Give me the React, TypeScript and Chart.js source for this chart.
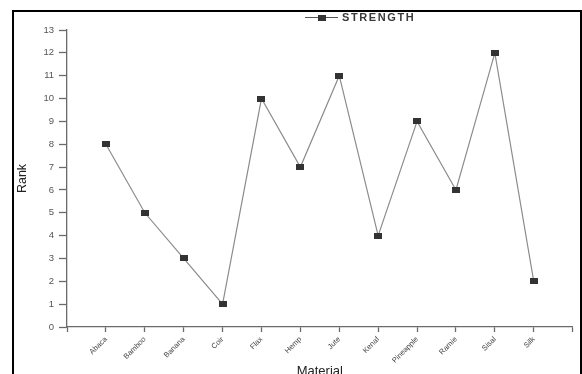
import React, { useEffect, useRef } from 'react';
import { Chart, registerables } from 'chart.js';
Chart.register(...registerables);

const materials = ['Abaca', 'Bamboo', 'Banana', 'Coir', 'Flax', 'Hemp', 'Jute', 'Kenaf', 'Pineapple', 'Ramie', 'Sisal', 'Silk'];
const strengthRank = [8, 5, 3, 1, 10, 7, 11, 4, 9, 6, 12, 2];
const seriesName = 'STRENGTH';
const xTitle = 'Material';
const yTitle = 'Rank';
const yMin = 0;
const yMax = 13;

const FONT = '"Liberation Sans", Arial, sans-serif';

export default function App() {
  const ref = useRef<HTMLCanvasElement>(null);

  useEffect(() => {
    if (!ref.current) return;
    const marker = document.createElement('canvas');
    marker.width = 8;
    marker.height = 6;
    const mctx = marker.getContext('2d')!;
    mctx.fillStyle = '#333';
    mctx.fillRect(0, 0, 8, 6);

    const legendPlugin = {
      id: 'customLegend',
      afterDraw(chart: any) {
        const ctx = chart.ctx as CanvasRenderingContext2D;
        const x0 = chart.chartArea.left + 238;
        const y0 = 17.5;
        ctx.save();
        ctx.strokeStyle = '#555';
        ctx.lineWidth = 1.2;
        ctx.beginPath();
        ctx.moveTo(x0, y0);
        ctx.lineTo(x0 + 33, y0);
        ctx.stroke();
        ctx.drawImage(marker, x0 + 13, y0 - 3);
        ctx.fillStyle = '#3a3a3a';
        ctx.font = 'bold 11px ' + FONT;
        (ctx as any).letterSpacing = '1.6px';
        ctx.textBaseline = 'middle';
        ctx.textAlign = 'left';
        ctx.fillText(seriesName, x0 + 37, y0);
        ctx.restore();
      },
    };

    const chart = new Chart(ref.current, {
      type: 'line',
      data: {
        datasets: [
          {
            label: seriesName,
            data: strengthRank.map((v, i) => ({ x: i, y: v })),
            borderColor: '#8c8c8c',
            borderWidth: 1.2,
            pointStyle: marker as any,
            pointRadius: 4,
            pointBackgroundColor: '#333',
            pointBorderColor: '#333',
            tension: 0,
          },
        ],
      },
      options: {
        responsive: false,
        animation: false,
        layout: { padding: { top: 30, right: 6, left: 0, bottom: 0 } },
        plugins: { legend: { display: false }, tooltip: { enabled: false } },
        scales: {
          x: {
            type: 'linear',
            min: -1,
            max: materials.length,
            ticks: {
              stepSize: 1,
              autoSkip: false,
              maxRotation: 45,
              minRotation: 45,
              callback: (v: any) => materials[v] ?? '',
              color: '#444',
              font: { size: 7.5, family: FONT },
              padding: 3,
            },
            grid: { drawOnChartArea: false, tickLength: 5, color: '#6a6a6a', tickWidth: 1.3 },
            border: { color: '#6a6a6a', width: 1.3 },
            title: {
              display: true,
              text: xTitle,
              color: '#222',
              font: { size: 13, family: FONT },
              padding: { top: 0, bottom: 11 },
            },
            afterFit: (s: any) => {
              s.height = 390 - 327;
            },
          },
          y: {
            min: yMin,
            max: yMax,
            ticks: {
              stepSize: 1,
              color: '#555',
              font: { size: 9.5, family: FONT },
              padding: 5,
            },
            grid: { drawOnChartArea: false, tickLength: 8, color: '#6a6a6a', tickWidth: 1.3 },
            border: { color: '#6a6a6a', width: 1.3 },
            title: {
              display: true,
              text: yTitle,
              color: '#222',
              font: { size: 12.5, family: FONT },
              padding: { top: 15, bottom: 0 },
            },
            afterFit: (s: any) => {
              s.width = 67;
            },
          },
        },
      } as any,
      plugins: [legendPlugin],
    });
    return () => chart.destroy();
  }, []);

  return (
    <div style={{ position: 'fixed', left: 0, top: 0, width: 582, height: 374, overflow: 'hidden', background: '#fff' }}>
      <div
        style={{
          position: 'absolute',
          left: 12,
          top: 10,
          width: 570,
          height: 400,
          border: '2px solid #000',
          boxSizing: 'border-box',
        }}
      />
      <canvas
        ref={ref}
        width={582}
        height={390}
        style={{ position: 'absolute', left: 0, top: 0, width: 582, height: 390 }}
      />
    </div>
  );
}
